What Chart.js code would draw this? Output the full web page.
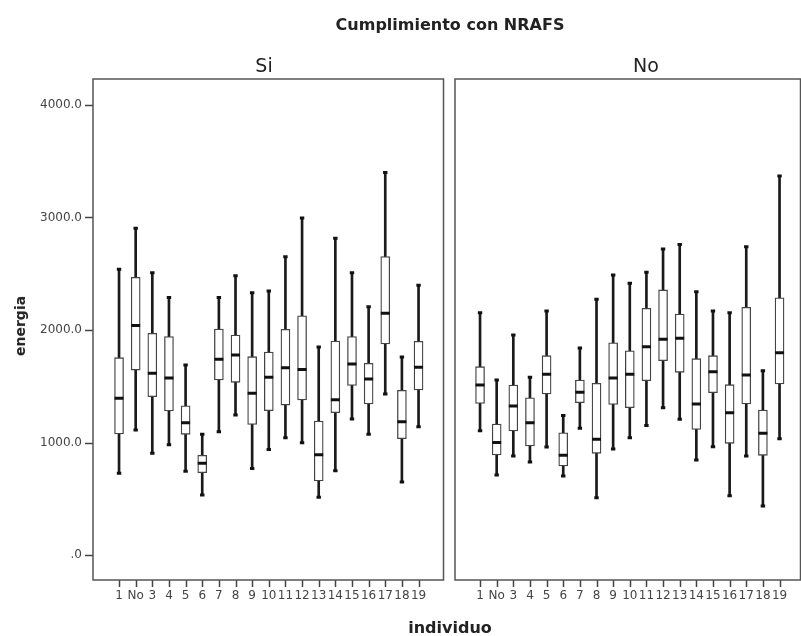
<!DOCTYPE html>
<html>
<head>
<meta charset="utf-8">
<script src="https://cdn.jsdelivr.net/npm/chart.js@4.4.0/dist/chart.umd.min.js"></script>
<style>
  body { margin: 0; background: #fff; width: 801px; height: 636px; overflow: hidden; position: relative; font-family: "DejaVu Sans", sans-serif; }
  canvas { position: absolute; top: 0; }
  .lbl { position: absolute; white-space: nowrap; transform: translate(-50%, -50%); color: #222; }
</style>
</head>
<body>
<canvas id="siChart" width="451" height="636" style="left:0"></canvas>
<canvas id="noChart" width="361" height="636" style="left:447px"></canvas>
<div class="lbl" style="left:450px;top:24px;font-weight:bold;font-size:16px">Cumplimiento con NRAFS</div>
<div class="lbl" style="left:264px;top:65px;font-size:19px">Si</div>
<div class="lbl" style="left:646px;top:65px;font-size:19px">No</div>
<div class="lbl" style="left:20px;top:326px;font-weight:bold;font-size:14px;transform:translate(-50%,-50%) rotate(-90deg)">energia</div>
<div class="lbl" style="left:450px;top:627px;font-weight:bold;font-size:16px">individuo</div>
<script>
const individuos = ["1", "No", "3", "4", "5", "6", "7", "8", "9", "10", "11", "12", "13", "14", "15", "16", "17", "18", "19"];
const yTicks = [0, 1000, 2000, 3000, 4000];

// panel "Si"
const siMin = [726, 1111, 904, 981, 744, 533, 1096, 1244, 770, 939, 1043, 999, 513, 750, 1209, 1073, 1431, 649, 1141];
const siQ1 = [1076, 1644, 1407, 1280, 1073, 732, 1556, 1535, 1161, 1283, 1333, 1378, 658, 1265, 1508, 1342, 1876, 1034, 1467];
const siMedian = [1393, 2039, 1615, 1573, 1176, 815, 1739, 1778, 1437, 1579, 1665, 1650, 892, 1381, 1698, 1564, 2148, 1185, 1668];
const siQ3 = [1754, 2468, 1970, 1941, 1327, 886, 2009, 1956, 1763, 1804, 2006, 2127, 1191, 1902, 1941, 1704, 2652, 1464, 1899];
const siMax = [2540, 2904, 2510, 2290, 1689, 1073, 2290, 2483, 2332, 2347, 2652, 2996, 1849, 2815, 2510, 2207, 3401, 1760, 2397];

// panel "No"
const noMin = [1105, 711, 880, 827, 960, 702, 1126, 510, 942, 1043, 1152, 1309, 1206, 844, 963, 527, 880, 436, 1034];
const noQ1 = [1348, 889, 1102, 969, 1431, 791, 1354, 904, 1339, 1309, 1550, 1727, 1624, 1117, 1443, 993, 1342, 886, 1520];
const noMedian = [1511, 1001, 1324, 1176, 1606, 886, 1446, 1028, 1573, 1606, 1852, 1917, 1926, 1342, 1630, 1265, 1600, 1082, 1798];
const noQ3 = [1674, 1164, 1511, 1398, 1772, 1087, 1556, 1526, 1887, 1816, 2193, 2356, 2142, 1745, 1772, 1514, 2202, 1289, 2287];
const noMax = [2154, 1556, 1956, 1579, 2169, 1241, 1840, 2273, 2489, 2415, 2513, 2720, 2761, 2341, 2169, 2154, 2741, 1638, 3369];

Chart.defaults.font.family = "DejaVu Sans";

// frame round the panel plus the little outside tick marks, placed through the scales
const panelFrame = {
    id: "panelFrame",
    afterDraw(chart) {
        const { ctx, chartArea: a, scales } = chart;
        ctx.save();
        ctx.strokeStyle = "#444";
        ctx.lineWidth = 1.5;
        ctx.beginPath();
        individuos.forEach((_, i) => {
            const px = Math.round(scales.x.getPixelForValue(i + 1)) + 0.5;
            ctx.moveTo(px, a.bottom);
            ctx.lineTo(px, a.bottom + 7);
        });
        if (scales.y.options.display) {
            yTicks.forEach(v => {
                const py = Math.round(scales.y.getPixelForValue(v)) + 0.5;
                ctx.moveTo(a.left - 8, py);
                ctx.lineTo(a.left, py);
            });
        }
        ctx.stroke();
        ctx.strokeStyle = "#555";
        ctx.strokeRect(a.left, a.top, a.right - a.left, a.bottom - a.top);
        ctx.restore();
    }
};

function makePanel(id, mins, q1s, meds, q3s, maxs, xMin, xMax, showY, padding) {
    const pts = values => values.map((v, i) => ({ x: i + 1, y: v }));
    const ranges = (lo, hi) => lo.map((v, i) => ({ x: i + 1, y: [v, hi[i]] }));
    const marks = (data, radius, width, order) => ({
        type: "line", data, showLine: false, order,
        pointStyle: "line", pointRadius: radius, pointHoverRadius: radius,
        pointBorderWidth: width, pointBorderColor: "#111"
    });

    return new Chart(document.getElementById(id), {
        type: "bar",
        data: {
            datasets: [
                { data: ranges(mins, maxs), backgroundColor: "#1a1a1a", barThickness: 2, grouped: false, order: 4 },
                { data: ranges(q1s, q3s), backgroundColor: "#fff", borderColor: "#444", borderWidth: 1.3,
                  borderSkipped: false, barThickness: 9, grouped: false, order: 3 },
                marks(pts(meds), 4.5, 3, 1),
                marks(pts(mins), 2.2, 3, 2),
                marks(pts(maxs), 2.2, 3, 2)
            ]
        },
        options: {
            responsive: false,
            animation: false,
            layout: { padding: padding },
            plugins: { legend: { display: false }, tooltip: { enabled: false } },
            scales: {
                x: {
                    type: "linear", min: xMin, max: xMax, offset: false,
                    grid: { display: false, tickLength: 8 },
                    border: { display: false },
                    afterBuildTicks: axis => { axis.ticks = individuos.map((_, i) => ({ value: i + 1 })); },
                    afterFit: axis => { axis.height = 56; },
                    ticks: {
                        autoSkip: false, maxRotation: 0, padding: 1, color: "#444",
                        font: { size: 12 },
                        callback: v => individuos[v - 1] ?? ""
                    }
                },
                y: {
                    type: "linear", min: -222, max: 4231, display: showY,
                    grid: { display: false, tickLength: 8 },
                    border: { display: false },
                    afterBuildTicks: axis => { axis.ticks = yTicks.map(v => ({ value: v })); },
                    afterFit: axis => { axis.width = showY ? 93 : 0; },
                    ticks: {
                        padding: 3, color: "#444",
                        font: { size: 12 },
                        callback: v => v === 0 ? ".0" : v.toFixed(1)
                    }
                }
            }
        },
        plugins: [panelFrame]
    });
}

makePanel("siChart", siMin, siQ1, siMedian, siQ3, siMax, -0.565, 20.5, true, { top: 79, right: 0, left: 0, bottom: 0 });
makePanel("noChart", noMin, noQ1, noMedian, noQ3, noMax, -0.505, 20.26, false, { top: 79, right: 1, left: 8, bottom: 0 });
</script>
</body>
</html>
